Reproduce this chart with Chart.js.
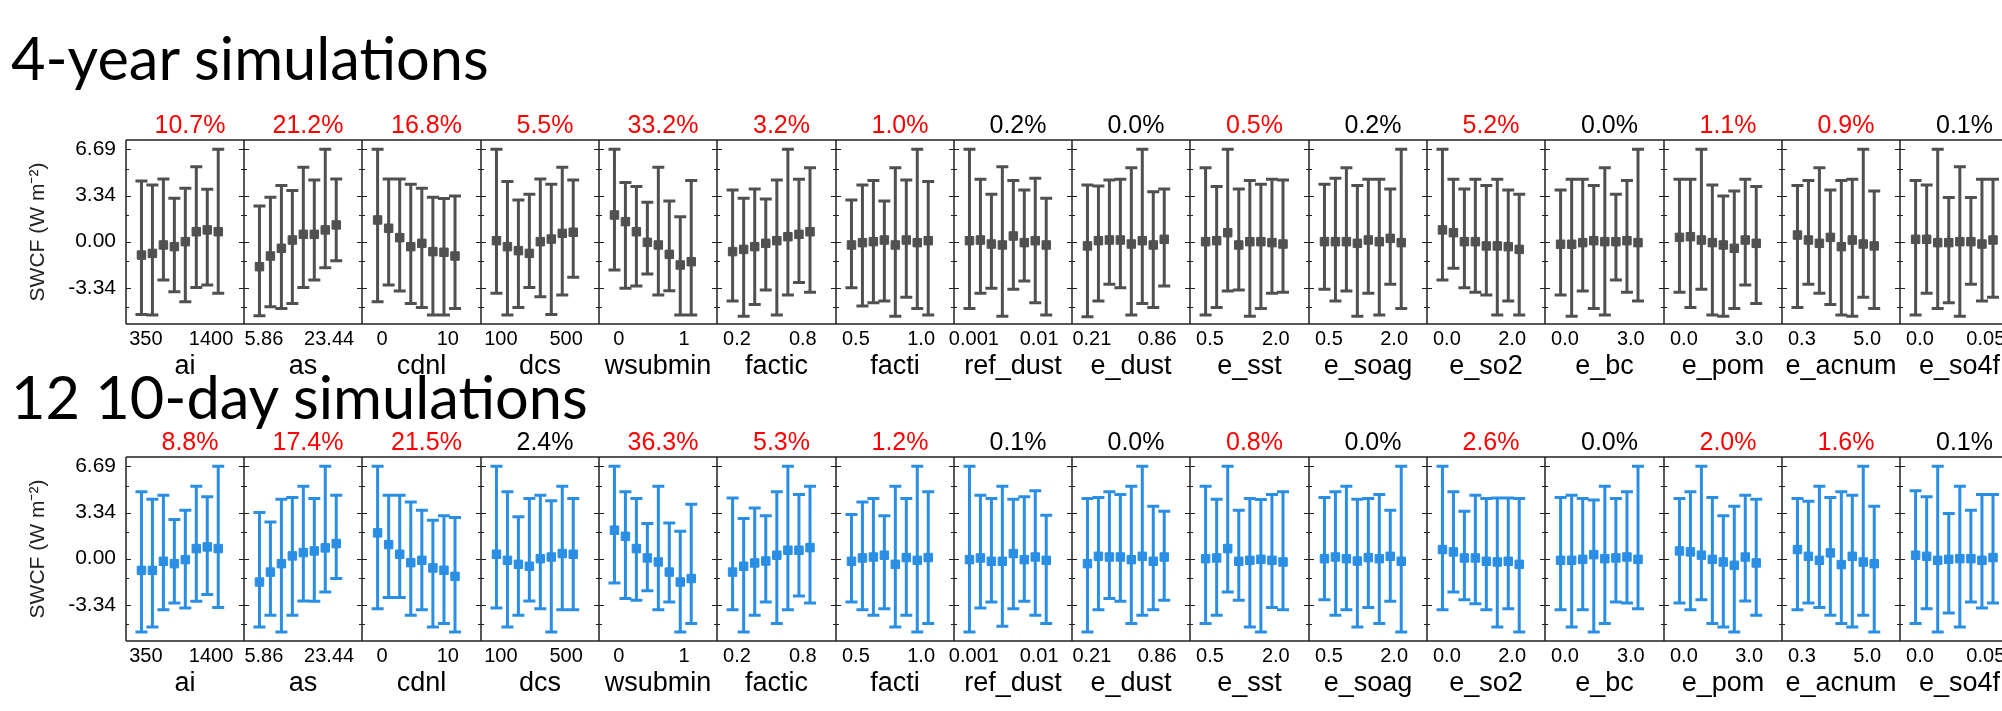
<!DOCTYPE html>
<html>
<head>
<meta charset="utf-8">
<script src="https://cdn.jsdelivr.net/npm/chart.js@4.4.1/dist/chart.umd.min.js"></script>
<style>
  body { margin: 0; width: 2002px; height: 711px; overflow: hidden; background: #fff; position: relative; }
  canvas { position: absolute; }
  .title { position: absolute; left: 11px; z-index: 2; font-family: Lato, sans-serif; font-size: 59.5px; line-height: 59.5px; white-space: nowrap; color: #000; }
</style>
</head>
<body>
<div class="title" style="top:28px">4-year simulations</div>
<div class="title" style="top:367px">12 10-day simulations</div>
<script>
// parameter names and the range printed under each panel
const params = ['ai', 'as', 'cdnl', 'dcs', 'wsubmin', 'factic', 'facti', 'ref_dust', 'e_dust', 'e_sst', 'e_soag', 'e_so2', 'e_bc', 'e_pom', 'e_acnum', 'e_so4f'];
const rangeLow = ['350', '5.86', '0', '100', '0', '0.2', '0.5', '0.001', '0.21', '0.5', '0.5', '0.0', '0.0', '0.0', '0.3', '0.0'];
const rangeHigh = ['1400', '23.44', '10', '500', '1', '0.8', '1.0', '0.01', '0.86', '2.0', '2.0', '2.0', '3.0', '3.0', '5.0', '0.05'];

// explained variance (%), red = significant
const yearPct = [10.7, 21.2, 16.8, 5.5, 33.2, 3.2, 1.0, 0.2, 0.0, 0.5, 0.2, 5.2, 0.0, 1.1, 0.9, 0.1];
const yearRed = [1, 1, 1, 1, 1, 1, 1, 0, 0, 1, 0, 1, 0, 1, 1, 0];
const dayPct = [8.8, 17.4, 21.5, 2.4, 36.3, 5.3, 1.2, 0.1, 0.0, 0.8, 0.0, 2.6, 0.0, 2.0, 1.6, 0.1];
const dayRed = [1, 1, 1, 0, 1, 1, 1, 0, 0, 1, 0, 1, 0, 1, 1, 0];

const yTicks = [-3.34, 0, 3.34, 6.69];
const yMinor = [-4.74, -1.4, 1.94, 5.29];

// 4-year runs: bin means and whisker ends, 8 bins per parameter
const yearMid = [
  [-0.97, -0.85, -0.24, -0.36, 0.00, 0.72, 0.85, 0.72],
  [-1.81, -1.04, -0.48, 0.12, 0.53, 0.53, 0.85, 1.21],
  [1.57, 0.97, 0.29, -0.36, -0.12, -0.72, -0.77, -1.04],
  [0.07, -0.36, -0.65, -0.85, 0.00, 0.19, 0.60, 0.68],
  [1.93, 1.45, 0.72, -0.05, -0.24, -0.92, -1.69, -1.45],
  [-0.72, -0.56, -0.36, -0.12, 0.07, 0.36, 0.53, 0.72],
  [-0.24, -0.07, 0.00, 0.12, -0.24, 0.12, -0.07, 0.07],
  [0.07, 0.12, -0.17, -0.24, 0.41, -0.07, 0.07, -0.24],
  [-0.31, 0.07, 0.12, 0.12, -0.17, 0.07, -0.24, 0.17],
  [0.00, 0.07, 0.65, -0.24, 0.00, 0.00, -0.07, -0.17],
  [0.00, 0.00, 0.00, -0.12, 0.12, 0.00, 0.24, -0.07],
  [0.85, 0.65, 0.00, 0.00, -0.31, -0.31, -0.36, -0.56],
  [-0.19, -0.19, -0.07, 0.07, 0.00, 0.00, 0.07, -0.07],
  [0.31, 0.36, 0.12, -0.07, -0.24, -0.48, 0.12, -0.12],
  [0.48, 0.12, -0.12, 0.31, -0.36, 0.12, -0.17, -0.31],
  [0.17, 0.17, -0.07, -0.07, 0.00, 0.00, -0.17, 0.12]
];
const yearHigh = [
  [4.40, 4.11, 4.54, 3.14, 3.87, 5.43, 3.79, 6.69],
  [2.58, 3.21, 4.06, 3.70, 5.39, 4.47, 6.69, 4.54],
  [6.69, 4.54, 4.54, 4.15, 3.86, 3.21, 3.12, 3.31],
  [6.69, 4.35, 3.02, 3.43, 4.54, 4.15, 5.39, 4.47],
  [6.69, 4.28, 3.99, 2.85, 5.39, 2.95, 1.81, 4.42],
  [3.74, 3.14, 3.82, 3.09, 4.47, 6.69, 4.52, 5.36],
  [3.02, 4.11, 4.42, 2.95, 5.36, 4.47, 6.69, 4.35],
  [6.69, 4.52, 3.43, 5.43, 4.42, 3.74, 4.59, 3.14],
  [4.11, 4.03, 4.47, 4.52, 5.36, 6.69, 3.62, 3.82],
  [5.36, 3.99, 6.69, 3.82, 4.42, 4.15, 4.52, 4.47],
  [4.15, 4.59, 5.36, 4.06, 4.52, 4.52, 3.82, 6.69],
  [6.69, 4.52, 3.82, 4.52, 4.06, 4.52, 3.74, 3.43],
  [3.74, 4.52, 4.52, 4.06, 5.36, 3.43, 4.42, 6.69],
  [4.52, 4.52, 6.69, 4.11, 3.31, 3.67, 4.52, 3.99],
  [4.06, 4.42, 5.36, 3.74, 4.42, 4.52, 6.69, 3.67],
  [4.42, 4.11, 6.69, 3.19, 5.43, 3.19, 4.52, 4.52]
];
const yearLow = [
  [-5.27, -5.31, -2.78, -3.62, -4.35, -3.31, -3.14, -3.74],
  [-5.36, -4.71, -4.83, -4.47, -3.31, -2.78, -1.88, -1.38],
  [-4.35, -3.14, -3.57, -4.47, -4.76, -5.31, -5.31, -4.83],
  [-3.74, -5.31, -4.76, -3.31, -3.99, -5.27, -3.86, -2.58],
  [-2.05, -3.38, -3.21, -2.34, -3.86, -3.55, -5.31, -5.31],
  [-4.30, -5.39, -4.54, -3.50, -5.31, -3.86, -2.95, -3.67],
  [-3.33, -4.66, -4.42, -4.30, -5.39, -4.03, -4.83, -5.31],
  [-4.83, -3.74, -3.38, -5.39, -3.45, -2.85, -4.42, -5.31],
  [-5.43, -4.30, -3.09, -3.33, -5.31, -4.47, -4.76, -3.21],
  [-5.31, -4.76, -3.57, -3.50, -5.39, -4.83, -3.74, -3.67],
  [-3.45, -4.30, -3.57, -5.39, -3.74, -5.31, -3.09, -4.83],
  [-2.78, -1.93, -3.33, -3.67, -3.86, -5.31, -4.30, -5.31],
  [-3.86, -5.39, -3.57, -4.83, -5.31, -2.78, -3.67, -4.30],
  [-3.67, -4.76, -3.45, -5.31, -5.39, -4.83, -3.14, -4.47],
  [-4.76, -3.09, -3.74, -4.54, -5.31, -5.39, -4.03, -4.83],
  [-5.31, -3.74, -4.83, -4.42, -5.39, -3.09, -4.30, -4.03]
];

// 10-day runs
const dayMid = [
  [-0.85, -0.85, -0.19, -0.36, -0.07, 0.73, 0.85, 0.73],
  [-1.69, -0.97, -0.36, 0.20, 0.44, 0.56, 0.78, 1.09],
  [1.87, 1.02, 0.32, -0.29, -0.12, -0.67, -0.84, -1.28],
  [0.32, -0.12, -0.41, -0.55, 0.00, 0.12, 0.37, 0.32],
  [2.06, 1.62, 0.73, 0.05, -0.24, -0.97, -1.69, -1.44],
  [-0.97, -0.55, -0.31, -0.17, 0.25, 0.61, 0.61, 0.80],
  [-0.19, 0.05, 0.12, 0.25, -0.41, 0.08, -0.12, 0.08],
  [-0.07, 0.05, -0.19, -0.19, 0.37, -0.07, 0.12, -0.12],
  [-0.36, 0.17, 0.12, 0.12, -0.07, 0.17, -0.19, 0.12],
  [0.00, 0.05, 0.73, -0.19, -0.12, -0.05, -0.12, -0.24],
  [0.00, 0.12, 0.00, -0.17, 0.08, 0.00, 0.17, -0.19],
  [0.66, 0.49, 0.05, 0.05, -0.19, -0.24, -0.19, -0.41],
  [-0.12, -0.12, -0.05, 0.29, 0.00, 0.05, 0.12, -0.05],
  [0.56, 0.49, 0.25, -0.05, -0.24, -0.48, 0.12, -0.31],
  [0.66, 0.17, -0.12, 0.42, -0.43, 0.17, -0.24, -0.36],
  [0.25, 0.17, -0.12, -0.05, 0.00, 0.00, -0.12, 0.08]
];
const dayHigh = [
  [4.84, 4.31, 4.60, 2.83, 3.51, 5.25, 4.48, 6.69],
  [3.34, 2.66, 4.31, 4.43, 5.25, 4.36, 6.69, 4.60],
  [6.69, 4.60, 4.60, 4.11, 3.51, 2.78, 3.10, 2.98],
  [6.69, 4.84, 3.03, 4.36, 4.60, 4.19, 5.25, 4.36],
  [6.69, 4.84, 4.36, 2.54, 5.25, 2.59, 1.99, 3.94],
  [4.40, 2.90, 3.67, 3.10, 4.84, 6.69, 4.64, 5.25],
  [3.19, 4.11, 4.36, 3.10, 5.25, 4.36, 6.69, 4.84],
  [6.69, 4.60, 4.36, 5.25, 4.31, 4.48, 4.91, 3.15],
  [4.36, 4.43, 4.84, 4.64, 5.25, 6.69, 3.80, 3.44],
  [5.25, 4.31, 6.69, 3.51, 4.36, 4.28, 4.64, 4.84],
  [4.43, 4.84, 5.25, 4.31, 4.36, 4.64, 3.51, 6.69],
  [6.69, 4.84, 3.44, 4.60, 4.36, 4.40, 4.40, 4.36],
  [4.43, 4.60, 4.36, 4.24, 5.25, 4.36, 4.84, 6.69],
  [4.36, 4.84, 6.69, 4.43, 3.10, 3.80, 4.60, 4.31],
  [4.36, 4.16, 5.25, 4.43, 4.84, 4.60, 6.69, 3.80],
  [4.91, 4.48, 6.69, 3.27, 5.25, 3.51, 4.64, 4.64]
];
const dayLow = [
  [-5.31, -4.94, -3.69, -3.21, -3.57, -3.09, -2.60, -3.54],
  [-4.94, -4.10, -5.31, -4.10, -3.06, -3.09, -2.41, -1.44],
  [-3.62, -2.82, -2.82, -4.10, -3.69, -4.94, -4.70, -5.31],
  [-3.57, -4.94, -4.10, -3.06, -3.62, -5.31, -3.69, -3.69],
  [-1.76, -2.89, -3.01, -2.33, -3.69, -3.13, -5.31, -4.70],
  [-3.69, -5.31, -4.10, -3.13, -4.70, -3.69, -2.70, -3.21],
  [-3.13, -3.69, -4.10, -3.62, -4.94, -4.10, -5.31, -4.70],
  [-5.31, -3.57, -3.13, -4.89, -3.62, -3.09, -4.10, -4.70],
  [-5.31, -3.69, -2.89, -3.09, -4.70, -4.10, -3.69, -3.01],
  [-4.70, -4.10, -2.41, -3.01, -4.94, -5.31, -3.54, -3.69],
  [-2.97, -4.10, -3.69, -4.94, -3.54, -4.70, -3.09, -5.31],
  [-3.69, -2.41, -2.97, -3.26, -3.69, -4.94, -3.62, -5.31],
  [-3.69, -4.94, -3.69, -5.31, -4.70, -3.13, -3.21, -3.62],
  [-3.21, -3.69, -2.97, -4.70, -4.94, -5.31, -3.06, -4.10],
  [-3.69, -3.21, -3.54, -4.10, -4.70, -4.94, -4.10, -5.31],
  [-4.70, -3.62, -5.31, -3.94, -4.94, -3.13, -3.57, -3.21]
];

Chart.defaults.font.family = '"Liberation Sans", Arial, sans-serif';
Chart.defaults.color = '#000';

// panel left edges in page pixels
const panelLeft = [];
for (let i = 0; i <= 16; i++) panelLeft.push(Math.round(125.7 + 118.3 * i));

// box, shared borders and the small inward ticks
const frame = {
    id: 'frame',
    beforeDatasetsDraw(chart) {
        const {ctx, chartArea: a, scales: {y}} = chart;
        ctx.save();
        ctx.strokeStyle = '#222';
        ctx.lineWidth = 1.5;
        ctx.beginPath();
        ctx.moveTo(a.left, a.top); ctx.lineTo(a.right, a.top);
        ctx.moveTo(a.left, a.bottom); ctx.lineTo(a.right, a.bottom);
        ctx.moveTo(a.left, a.top); ctx.lineTo(a.left, a.bottom);
        ctx.stroke();
        ctx.lineWidth = 1;
        ctx.beginPath();
        const marks = yTicks.map(v => [v, 5]).concat(yMinor.map(v => [v, 3]));
        for (const [v, len] of marks) {
            const py = Math.round(y.getPixelForValue(v)) + 0.5;
            ctx.moveTo(a.left, py); ctx.lineTo(a.left + len, py);
            ctx.moveTo(a.right, py); ctx.lineTo(a.right - len, py);
        }
        ctx.stroke();
        ctx.restore();
    }
};

const whiskers = (lo, hi, color) => ({
    id: 'whiskers',
    beforeDatasetsDraw(chart) {
        const {ctx, scales: {x, y}} = chart;
        ctx.save();
        ctx.strokeStyle = color;
        ctx.lineWidth = 3;
        ctx.beginPath();
        lo.forEach((v, k) => {
            const px = x.getPixelForValue(k);
            const top = y.getPixelForValue(hi[k]);
            const bot = y.getPixelForValue(v);
            ctx.moveTo(px, top); ctx.lineTo(px, bot);
            ctx.moveTo(px - 6, top); ctx.lineTo(px + 6, top);
            ctx.moveTo(px - 6, bot); ctx.lineTo(px + 6, bot);
        });
        ctx.stroke();
        ctx.restore();
    }
});

const pctLabel = (text, color) => ({
    id: 'pctLabel',
    afterDraw(chart) {
        const {ctx, chartArea: a} = chart;
        ctx.save();
        ctx.font = '25px "Liberation Sans", Arial, sans-serif';
        ctx.fillStyle = color;
        ctx.textAlign = 'center';
        ctx.fillText(text, (a.left + a.right) / 2 + 5, a.top - 7);
        ctx.restore();
    }
});

drawPanel = (i, top, mid, lo, hi, pct, red, color) => {
    const first = i === 0;
    const left = first ? 0 : panelLeft[i] - 20;
    const cv = document.createElement('canvas');
    cv.width = panelLeft[i + 1] + 20 - left;
    cv.height = 284;
    cv.style.left = left + 'px';
    cv.style.top = top + 'px';
    document.body.appendChild(cv);

    new Chart(cv, {
        type: 'scatter',
        data: {
            datasets: [{
                data: mid.map((v, k) => ({x: k, y: v})),
                pointStyle: 'rect',
                pointRadius: 6,
                pointBorderWidth: 1,
                backgroundColor: color,
                borderColor: color
            }]
        },
        options: {
            responsive: false,
            animation: false,
            events: [],
            layout: {padding: {left: first ? 0 : 20, right: 20, top: 40, bottom: 0}},
            plugins: {legend: {display: false}, tooltip: {enabled: false}},
            scales: {
                x: {
                    type: 'linear',
                    min: -1.41,
                    max: 9.35,
                    afterBuildTicks: ax => { ax.ticks = [{value: 0.4}, {value: 6.35}]; },
                    afterFit: ax => { ax.height = 60; },
                    grid: {display: false, drawTicks: false},
                    border: {display: false},
                    ticks: {
                        autoSkip: false,
                        maxRotation: 0,
                        padding: 3,
                        font: {size: 20},
                        callback: (v, idx) => idx === 0 ? rangeLow[i] : rangeHigh[i]
                    },
                    title: {display: true, text: params[i], font: {size: 27}, padding: {top: 0, bottom: 1}}
                },
                y: {
                    display: first,
                    min: -5.96,
                    max: 7.36,
                    afterBuildTicks: ax => { ax.ticks = yTicks.map(v => ({value: v})); },
                    afterFit: ax => { ax.width = first ? panelLeft[0] : 0; },
                    grid: {display: false, drawTicks: false},
                    border: {display: false},
                    ticks: {padding: 10, font: {size: 21}, callback: v => v.toFixed(2)},
                    title: {display: true, text: 'SWCF (W m⁻²)', color: '#222', font: {size: 21}, padding: {top: 26, bottom: 0}}
                }
            }
        },
        plugins: [frame, whiskers(lo, hi, color), pctLabel(pct.toFixed(1) + '%', red ? '#ff0000' : '#000')]
    });
}

for (let i = 0; i < 16; i++) {
    drawPanel(i, 100, yearMid[i], yearLow[i], yearHigh[i], yearPct[i], yearRed[i], '#505050');
    drawPanel(i, 417, dayMid[i], dayLow[i], dayHigh[i], dayPct[i], dayRed[i], '#2a8fe4');
}
</script>
</body>
</html>
